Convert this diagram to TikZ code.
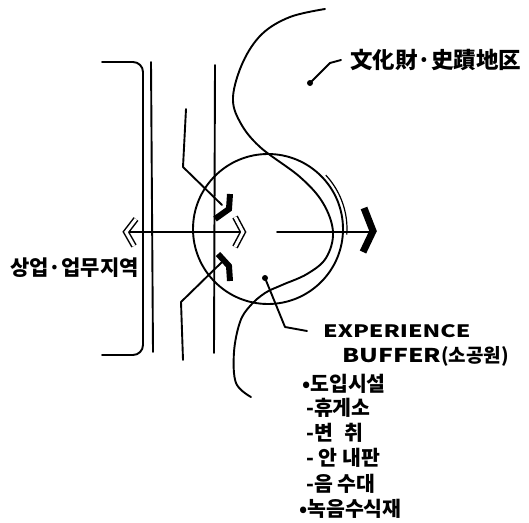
\documentclass[tikz,border=0pt]{standalone}
\usepackage{fontspec}
\usepackage{graphicx}
\newfontfamily\hand{Noto Sans CJK KR}
\usetikzlibrary{positioning}

\begin{document}
\begin{tikzpicture}[x=1pt,y=-1pt,
        pen/.style={line width=1.9pt,line cap=round,line join=round},
        thick head/.style={line width=6pt,line join=miter},
        open head/.style={double,double distance=3pt,line width=1.5pt},
        lbl/.style={inner sep=0pt,anchor=west,
                    font=\hand\bfseries\fontsize{21}{21}\selectfont},
        item/.style={lbl,font=\hand\bfseries\fontsize{20.5}{20.5}\selectfont},
        caps/.style={lbl,font=\hand\bfseries\fontsize{19}{19}\selectfont}]
        \useasboundingbox (0,0) rectangle (529,522);
        % zone edge and streets
        \draw[pen,rounded corners=10pt] (102,62) -- (143,62) -- (143,355) -- (102,355);
        \draw[pen] (151,62) -- (153,352);
        \draw[pen] (215,65) -- (214,353);
        \draw[pen] (186,109) -- (183,167) -- (222,205);
        \draw[pen] (183,360) -- (181,302) -- (222,262);
        \draw[thick head] (230,194) -- (229,209) -- (215,219);
        \draw[thick head] (218,254) -- (229,266) -- (230,281);
        % buffer circle and heritage edge
        \draw[pen] (268,229) circle[radius=75];
        \draw[line width=1.2pt] ([shift={(268,229)}]-43:79) arc[start angle=-43,end angle=4,radius=79];
        \draw[pen] plot[smooth,tension=0.6] coordinates {
          (325,9) (290,17) (262,34) (243,62) (233,97) (240,122) (260,147)
          (300,177) (323,203) (333,232) (326,258) (307,274) (282,285)
          (265,293) (250,306) (240,322) (234,352) (236,383) (251,397)};
        % axis
        \coordinate (axL) at (126,232);
        \coordinate (axM) at (243,232);
        \coordinate (axR0) at (277,232);
        \coordinate (axR) at (371,232);
        \draw[pen] (axL) -- (axM);
        \draw[pen] (axR0) -- (axR);
        \draw[open head] (136,219) -- (axL) -- (134,246);
        \draw[open head] (235,217) -- (axM) -- (235,247);
        \draw[thick head,line width=7pt] (364,208) -- (373,231) -- (363,252);
        % labels
        \node[lbl,font=\hand\bfseries\fontsize{22.5}{22.5}\selectfont] (heritage) at (350,60) {文化財·史蹟地区};
        \fill (310,83) circle[radius=3] coordinate (hdot);
        \draw[pen] (hdot) -- (330,63) -- ([xshift=-9pt]heritage.west);
        \node[lbl] (commerce) at (10,268) {상업·업무지역};
        \node[caps] (exp) at (323,331) {\scalebox{1.22}[0.9]{EXPERIENCE}};
        \node[caps] (buffer) at (342,356) {\scalebox{1.3}[1]{BUFFER}(소공원)};
        \fill (265,278) circle[radius=3] coordinate (edot);
        \draw[pen] (edot) -- (285,327) -- ([xshift=-16pt]exp.west);
        \node[item] (i1) at (302,384) {•도입시설};
        \node[item] (i2) at (306,408) {-휴게소};
        \node[item] (i3) at (306,433) {-변\hspace{12pt}취};
        \node[item] (i4) at (306,458) {- 안 내판};
        \node[item] (i5) at (306,484) {-음 수대};
        \node[item] (i6) at (299,509) {•녹음수식재};
      \end{tikzpicture}
\end{document}
